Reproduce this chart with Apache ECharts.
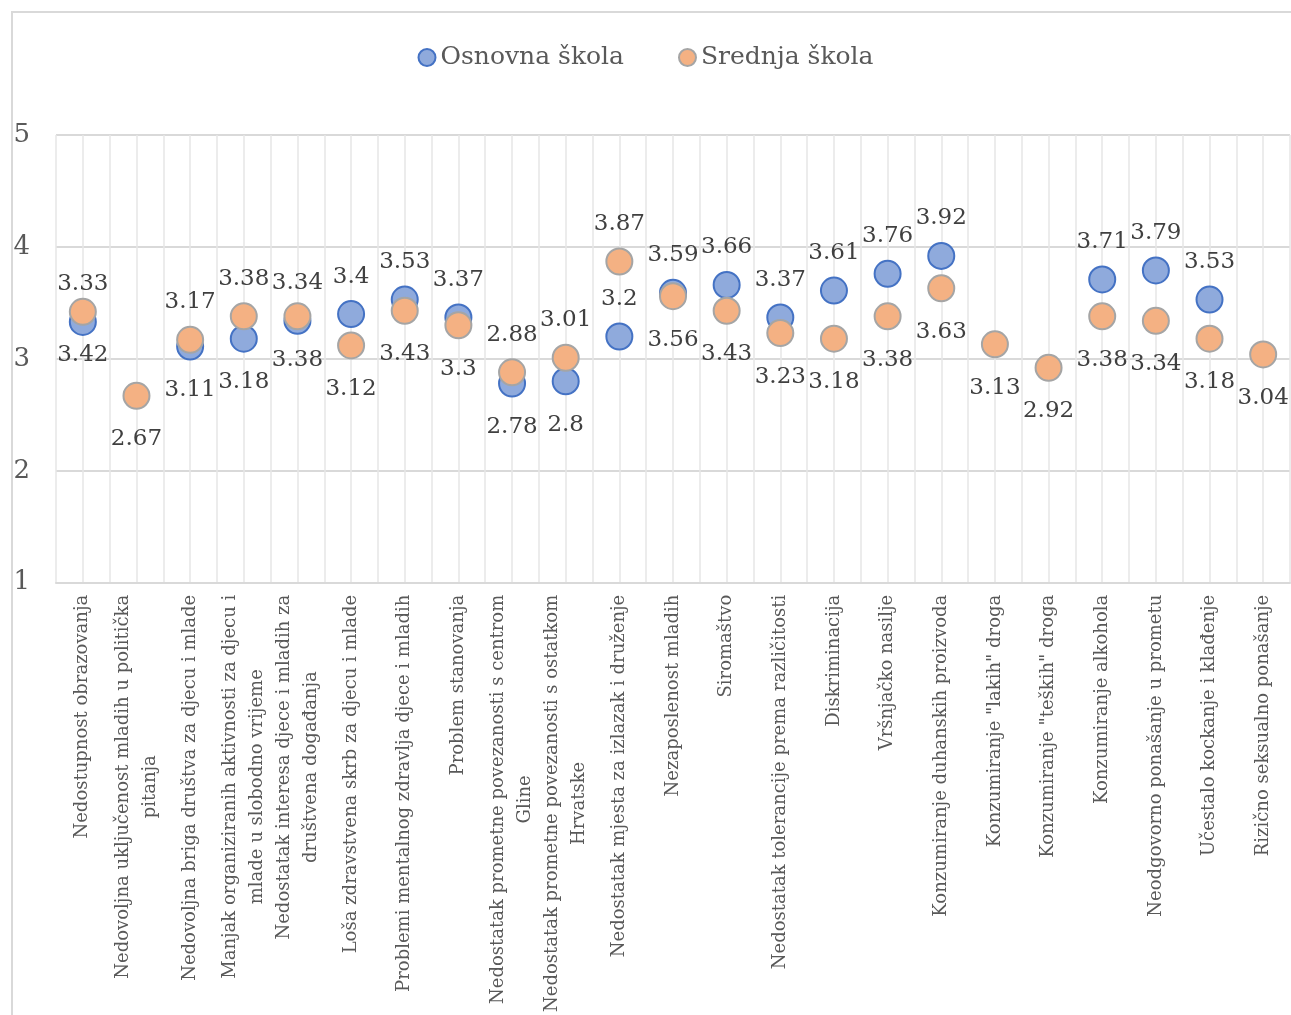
<!DOCTYPE html>
<html>
<head>
<meta charset="utf-8">
<script src="https://cdn.jsdelivr.net/npm/echarts@6/dist/echarts.min.js"></script>
<style>
  html, body { margin: 0; padding: 0; background: #fff; }
  #frame { position: absolute; left: 11px; top: 11px; width: 1400px; height: 1100px; border: 2px solid #d9d9d9; }
  #chart { position: absolute; left: 0; top: 0; width: 1291px; height: 1015px; }
</style>
</head>
<body>
<div id="frame"></div>
<div id="chart"></div>
<script>
// categories (line breaks as in the original wrapping)
const categories = [
  'Nedostupnost obrazovanja',
  'Nedovoljna uključenost mladih u politička\npitanja',
  'Nedovoljna briga društva za djecu i mlade',
  'Manjak organiziranih aktivnosti za djecu i\nmlade u slobodno vrijeme',
  'Nedostatak interesa djece i mladih za\ndruštvena događanja',
  'Loša zdravstvena skrb za djecu i mlade',
  'Problemi mentalnog zdravlja djece i mladih',
  'Problem stanovanja',
  'Nedostatak prometne povezanosti s centrom\nGline',
  'Nedostatak prometne povezanosti s ostatkom\nHrvatske',
  'Nedostatak mjesta za izlazak i druženje',
  'Nezaposlenost mladih',
  'Siromaštvo',
  'Nedostatak tolerancije prema različitosti',
  'Diskriminacija',
  'Vršnjačko nasilje',
  'Konzumiranje duhanskih proizvoda',
  'Konzumiranje "lakih" droga',
  'Konzumiranje "teških" droga',
  'Konzumiranje alkohola',
  'Neodgovorno ponašanje u prometu',
  'Učestalo kockanje i klađenje',
  'Rizično seksualno ponašanje'
]

const osnovna = [3.33, null, 3.11, 3.18, 3.34, 3.4, 3.53, 3.37, 2.78, 2.8, 3.2, 3.59, 3.66, 3.37, 3.61, 3.76, 3.92, null, null, 3.71, 3.79, 3.53, null]
const srednja = [3.42, 2.67, 3.17, 3.38, 3.38, 3.12, 3.43, 3.3, 2.88, 3.01, 3.87, 3.56, 3.43, 3.23, 3.18, 3.38, 3.63, 3.13, 2.92, 3.38, 3.34, 3.18, 3.04]

const yTicks = [1, 2, 3, 4, 5]

// label placement exceptions (as in the original chart)
const blueBelow = [2, 3, 8, 9]
const orangeAbove = [2, 3, 8, 9, 10]

const FONT = 'DejaVu Serif'
const chart = echarts.init(document.getElementById('chart'))

function items(values, isBlue) {
  return values.map((v, i) => {
    let pos
    if (isBlue) pos = blueBelow.includes(i) ? 'bottom' : 'top'
    else pos = orangeAbove.includes(i) ? 'top' : 'bottom'
    return { value: v, label: { position: pos, distance: pos === 'top' ? 12 : 18 } }
  })
}

const labelStyle = {
  show: true,
  fontFamily: FONT,
  fontSize: 23,
  color: '#404040',
  formatter: p => String(p.value)
}

chart.setOption({
  animation: false,
  legend: {
    top: 40,
    left: 'center',
    icon: 'circle',
    itemWidth: 17,
    itemHeight: 17,
    itemGap: 54,
    textStyle: { fontFamily: FONT, fontSize: 25, color: '#595959' },
    data: ['Osnovna škola', 'Srednja škola']
  },
  grid: { left: 56, right: 1, top: 135, bottom: 430, containLabel: false },
  xAxis: [
    {
      type: 'category',
      data: categories,
      boundaryGap: true,
      axisLine: { lineStyle: { color: '#d9d9d9', width: 2 } },
      axisTick: { show: false },
      splitLine: { show: false },
      axisLabel: {
        interval: 0,
        rotate: 90,
        margin: 12,
        formatter: v => v.split('\n').map(l => '{c|' + l + '}').join('\n'),
        rich: {
          c: { align: 'center', fontFamily: FONT, fontSize: 18, color: '#595959', lineHeight: 27 }
        }
      }
    },
    {
      // half-category gridlines
      type: 'value',
      min: 0,
      max: 46,
      interval: 1,
      position: 'top',
      axisLine: { show: false },
      axisTick: { show: false },
      axisLabel: { show: false },
      splitLine: { show: true, lineStyle: { color: '#e6e6e6', width: 1.5 } }
    }
  ],
  yAxis: {
    type: 'value',
    min: yTicks[0],
    max: yTicks[yTicks.length - 1],
    interval: 1,
    axisLine: { show: false },
    axisTick: { show: false },
    axisLabel: { margin: 26, fontFamily: FONT, fontSize: 26, color: '#595959' },
    splitLine: { lineStyle: { color: '#d9d9d9', width: 2 } }
  },
  series: [
    {
      name: 'Osnovna škola',
      type: 'scatter',
      xAxisIndex: 0,
      symbol: 'circle',
      symbolSize: 26,
      itemStyle: { color: '#8faadc', borderColor: '#4472c4', borderWidth: 2, opacity: 1 },
      label: labelStyle,
      data: items(osnovna, true),
      z: 3
    },
    {
      name: 'Srednja škola',
      type: 'scatter',
      xAxisIndex: 0,
      symbol: 'circle',
      symbolSize: 26,
      itemStyle: { color: '#f4b183', borderColor: '#a5a5a5', borderWidth: 2, opacity: 1 },
      label: labelStyle,
      data: items(srednja, false),
      z: 4
    }
  ]
})
</script>
</body>
</html>
